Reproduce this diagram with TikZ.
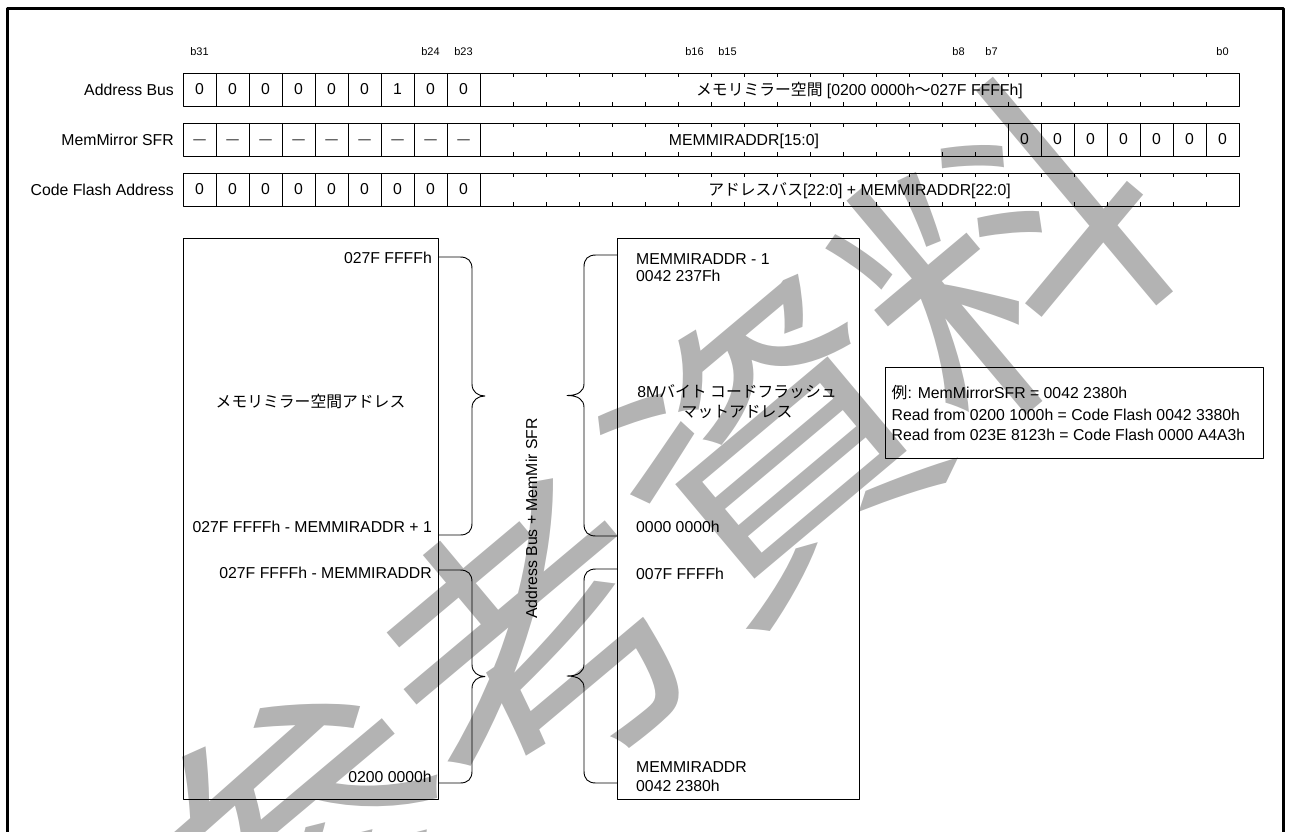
\documentclass[tikz,border=0pt]{standalone}
\usepackage{fontspec}
\setmainfont{Liberation Sans}
\newfontfamily\cjk{Noto Sans CJK JP}
\definecolor{wm}{HTML}{B3B3B3}
\newcommand\bracer[2]{%
 \draw[brc] (438,#1) -- (460,#1) .. controls (468,#1) and (472,{#1+4}) .. (472,{#1+12})
  -- (472,{(#1+#2)/2-12}) .. controls (472,{(#1+#2)/2-4}) and (478,{(#1+#2)/2}) .. (485,{(#1+#2)/2})
  .. controls (478,{(#1+#2)/2}) and (472,{(#1+#2)/2+4}) .. (472,{(#1+#2)/2+12})
  -- (472,{#2-12}) .. controls (472,{#2-4}) and (468,#2) .. (460,#2) -- (438,#2);}
\newcommand\bracel[2]{%
 \draw[brc] (617,#1) -- (596,#1) .. controls (588,#1) and (584,{#1+4}) .. (584,{#1+12})
  -- (584,{(#1+#2)/2-12}) .. controls (584,{(#1+#2)/2-4}) and (578,{(#1+#2)/2}) .. (567,{(#1+#2)/2})
  .. controls (578,{(#1+#2)/2}) and (584,{(#1+#2)/2+4}) .. (584,{(#1+#2)/2+12})
  -- (584,{#2-12}) .. controls (584,{#2-4}) and (588,#2) .. (596,#2) -- (617,#2);}
\begin{document}
\begin{tikzpicture}[x=1pt,y=-1pt,line join=round,
  lbl/.style={font=\fontsize{15.8}{18}\selectfont, inner sep=0},
  dsh/.style={font=\fontsize{12.5}{14}\selectfont, inner sep=0, anchor=base},
  bitlbl/.style={font=\fontsize{11}{13}\selectfont, inner sep=0},
  box/.style={draw=black, line width=0.9pt},
  brc/.style={draw=black, line width=0.9pt}]
\useasboundingbox (0,0) rectangle (1290,832);
% watermark
\node[text=wm, rotate=40, font=\cjk\fontsize{305}{305}\selectfont, inner sep=0] (wmk) at (655,545) {参考資料};
% frame
\draw[line width=3pt] (7.5,8.5) rectangle (1283.5,900);
% bit labels
\foreach \b/\i in {b31/0,b24/7,b23/8,b16/15,b15/16,b8/23,b7/24,b0/31}
  \node[bitlbl] (bit\b) at ({199.5+33*\i},52) {\b};
% row labels
\node[lbl, anchor=east] (labab) at (174,89.5) {Address Bus};
\node[lbl, anchor=east] (labms) at (174,139.5) {MemMirror SFR};
\node[lbl, anchor=east] (labcf) at (174,189.5) {Code Flash Address};
% row boxes
\draw[box] (183,73) rectangle (1239,106);
\draw[box] (183,123) rectangle (1239,156);
\draw[box] (183,173) rectangle (1239,206);
\foreach \i in {1,...,9} {
  \draw[box] ({183+33*\i},73) -- ({183+33*\i},106);
  \draw[box] ({183+33*\i},123) -- ({183+33*\i},156);
  \draw[box] ({183+33*\i},173) -- ({183+33*\i},206);
}
\foreach \i in {25,...,31} \draw[box] ({183+33*\i},123) -- ({183+33*\i},156);
\foreach \i in {10,...,31} {
  \draw[box] ({183+33*\i},73) -- ++(0,4);
  \draw[box] ({183+33*\i},106) -- ++(0,-4);
  \draw[box] ({183+33*\i},173) -- ++(0,4);
  \draw[box] ({183+33*\i},206) -- ++(0,-4);
}
\foreach \i in {10,...,24} {
  \draw[box] ({183+33*\i},123) -- ++(0,4);
  \draw[box] ({183+33*\i},156) -- ++(0,-4);
}
% values
\foreach \v [count=\i from 0] in {0,0,0,0,0,0,1,0,0} {
  \node[lbl] (ab\i) at ({199.5+33*\i},89.5) {\v};
  \node[lbl] (cf\i) at ({199.5+33*\i},189.5) {0};
  \node[dsh] (ms\i) at ({199.5+33*\i},143) {—};
}
\foreach \i in {25,...,31} \node[lbl] (msz\i) at ({199.5+33*\i},139.5) {0};
\node[lbl, anchor=base] (abtxt) at (859.5,95.2) {{\cjk メモリミラー空間} [0200 0000h{\cjk ～}027F FFFFh]};
\node[lbl, anchor=base] (mstxt) at (744,145.2) {MEMMIRADDR[15:0]};
\node[lbl, anchor=base] (cftxt) at (859.5,195.2) {{\cjk アドレスバス}[22:0] + MEMMIRADDR[22:0]};
% memory boxes
\node[box, minimum width=255pt, minimum height=561pt, inner sep=0] (lbox) at (310.5,518.5) {};
\node[box, minimum width=242pt, minimum height=561pt, inner sep=0] (rbox) at (738,518.5) {};
\node[lbl, anchor=base east] (l1) at (432,263.7) {027F FFFFh};
\node[lbl, anchor=base] (l2) at (310.5,407.4) {\cjk メモリミラー空間アドレス};
\node[lbl, anchor=base east] (l3) at (432,532.7) {027F FFFFh - MEMMIRADDR + 1};
\node[lbl, anchor=base east] (l4) at (432,578.7) {027F FFFFh - MEMMIRADDR};
\node[lbl, anchor=base east] (l5) at (432,782.4) {0200 0000h};
\node[lbl, anchor=base west] (r1) at (636,264) {MEMMIRADDR - 1};
\node[lbl, anchor=base west] (r2) at (636,281.5) {0042 237Fh};
\node[lbl, anchor=base] (r3) at (737,397.4) {8M{\cjk バイト コードフラッシュ}};
\node[lbl, anchor=base] (r4) at (737,417.4) {\cjk マットアドレス};
\node[lbl, anchor=base west] (r5) at (636,532.7) {0000 0000h};
\node[lbl, anchor=base west] (r6) at (636,579) {007F FFFFh};
\node[lbl, anchor=base west] (r7) at (636,772.4) {MEMMIRADDR};
\node[lbl, anchor=base west] (r8) at (636,791.4) {0042 2380h};
% braces
\bracer{257}{535}
\bracer{570}{783}
\bracel{255}{536}
\bracel{569}{783}
\node[lbl, rotate=90] (vt) at (531.5,518.5) {Address Bus + MemMir SFR};
% example
\node[box, minimum width=378pt, minimum height=91pt, inner sep=0] (ex) at (1074,412.5) {};
\node[lbl, anchor=base west] (e1) at (891.5,398.4) {{\cjk 例}: MemMirrorSFR = 0042 2380h};
\node[lbl, anchor=base west] (e2) at (891.5,420) {Read from 0200 1000h = Code Flash 0042 3380h};
\node[lbl, anchor=base west] (e3) at (891.5,440.7) {Read from 023E 8123h = Code Flash 0000 A4A3h};
\end{tikzpicture}
\end{document}
